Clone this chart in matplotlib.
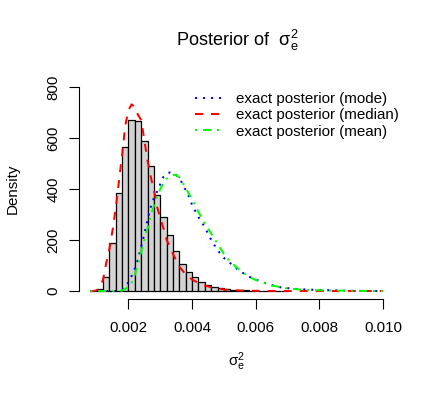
import numpy as np
import matplotlib
matplotlib.use('Agg')
import matplotlib.pyplot as plt

plt.rcParams['font.family'] = ['Liberation Sans', 'DejaVu Sans']
plt.rcParams['mathtext.fontset'] = 'custom'
plt.rcParams['mathtext.rm'] = 'Liberation Sans'
plt.rcParams['mathtext.it'] = 'Liberation Sans'

# histogram (density), bins of width 0.0002 starting at 0.0008
bin_start = 0.0008
bin_width = 0.0002
hist_density = [1, 8, 56, 187, 385, 563, 670, 665, 587, 490, 377, 292, 218, 158,
                108, 76, 57, 37, 22, 17, 11, 8, 6, 4, 3, 2, 2, 1, 1, 1, 0.5]

# exact posterior (mode) - blue dotted
mode_x = [0.0008, 0.0016, 0.0018, 0.0019, 0.0020, 0.0021, 0.0022, 0.0023, 0.0024,
          0.0025, 0.0026, 0.0027, 0.0028, 0.0029, 0.0030, 0.0031, 0.0032, 0.0033,
          0.0034, 0.0035, 0.0036, 0.0037, 0.0038, 0.0039, 0.0040, 0.0042, 0.0044,
          0.0046, 0.0048, 0.0050, 0.0052, 0.0055, 0.0058, 0.0061, 0.0064, 0.0068,
          0.0072, 0.0076, 0.0080, 0.0090, 0.0100]
mode_y = [0, 0, 4, 15, 36, 60, 89, 125, 175, 225, 280, 330, 365, 390, 420, 448, 460,
          465, 460, 455, 442, 420, 395, 370, 337, 290, 250, 200, 160, 130, 109, 78,
          56, 40, 27, 14, 9, 6, 4, 1, 0]

# exact posterior (median) - red dashed
median_x = [0.0008, 0.0009, 0.0010, 0.0011, 0.0012, 0.0013, 0.0014, 0.0015, 0.0016,
            0.0017, 0.0018, 0.0019, 0.0020, 0.0021, 0.0022, 0.0023, 0.0024, 0.0025,
            0.0026, 0.0027, 0.0028, 0.0029, 0.0030, 0.0031, 0.0032, 0.0034, 0.0036,
            0.0038, 0.0040, 0.0043, 0.0046, 0.0050, 0.0055, 0.0060, 0.0070, 0.0100]
median_y = [0, 0, 3, 15, 45, 110, 165, 240, 325, 430, 535, 650, 710, 732, 720, 690,
            670, 590, 510, 448, 395, 330, 285, 245, 200, 145, 95, 65, 45, 25, 15, 6,
            2, 1, 0, 0]

# exact posterior (mean) - green dash-dot
mean_x = [0.0008, 0.0017, 0.0018, 0.0019, 0.0020, 0.0021, 0.0022, 0.0023, 0.0024,
          0.0025, 0.0026, 0.0027, 0.0028, 0.0029, 0.0030, 0.0031, 0.0032, 0.0033,
          0.0034, 0.0035, 0.0036, 0.0037, 0.0038, 0.0039, 0.0040, 0.0042, 0.0044,
          0.0046, 0.0048, 0.0050, 0.0052, 0.0055, 0.0058, 0.0060, 0.0065, 0.0070,
          0.0075, 0.0080, 0.0090, 0.0100]
mean_y = [0, 0, 2, 8, 18, 32, 65, 105, 155, 200, 245, 295, 335, 370, 400, 425, 440,
          450, 455, 455, 445, 425, 405, 380, 360, 310, 265, 225, 185, 145, 115, 82,
          55, 43, 22, 10, 5, 3, 1, 0]

fig = plt.figure(figsize=(4.35, 3.97), dpi=100)
ax = fig.add_axes([0.1807, 0.2463, 0.7267, 0.5552])

lefts = bin_start + bin_width * np.arange(len(hist_density))
ax.bar(lefts, hist_density, width=bin_width, align='edge', color='#D3D3D3',
       edgecolor='black', linewidth=0.9)

lw = 1.44
ax.plot(mode_x, mode_y, color='blue', lw=lw, dashes=(1, 3), label='exact posterior (mode)')
ax.plot(median_x, median_y, color='red', lw=lw, dashes=(4, 4), label='exact posterior (median)')
ax.plot(mean_x, mean_y, color='#00FF00', lw=lw, dashes=(1, 3, 4, 3), label='exact posterior (mean)')

ax.set_xlim(0.000432, 0.010368)
ax.set_ylim(-32, 832)
ax.set_xticks([0.002, 0.004, 0.006, 0.008, 0.010])
ax.set_xticklabels(['0.002', '0.004', '0.006', '0.008', '0.010'])
ax.set_yticks([0, 200, 400, 600, 800])
ax.set_yticklabels(['0', '200', '400', '600', '800'], rotation=90, va='center')

for s in ['top', 'right']:
    ax.spines[s].set_visible(False)
ax.spines['left'].set_bounds(0, 800)
ax.spines['bottom'].set_bounds(0.002, 0.010)
ax.spines['left'].set_linewidth(0.8)
ax.spines['bottom'].set_linewidth(0.8)
ax.tick_params(length=7, width=0.8, labelsize=10.9)
ax.tick_params(axis='x', pad=9)
ax.tick_params(axis='y', pad=6)

ax.set_ylabel('Density', fontsize=10.9, labelpad=19)
ax.set_xlabel(r'$\mathregular{\sigma_e^2}$', fontsize=10.9, labelpad=11)
fig.text(0.545, 0.897, r'Posterior of  $\mathregular{\sigma_e^2}$', ha='center',
         va='center', fontsize=13.1)

ax.legend(loc='upper left', bbox_to_anchor=(195 / 435, 1 - 92 / 397),
          bbox_transform=fig.transFigure, frameon=False, fontsize=10.9,
          handlelength=1.8, handletextpad=0.9, labelspacing=0.15,
          borderpad=0, borderaxespad=0)

fig.savefig('out.png', dpi=100)
